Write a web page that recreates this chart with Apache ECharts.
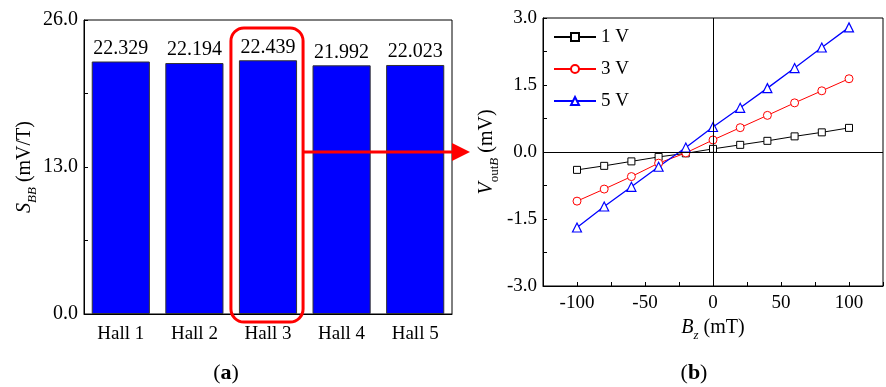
<!DOCTYPE html>
<html><head><meta charset="utf-8">
<script src="https://cdn.jsdelivr.net/npm/echarts@6/dist/echarts.min.js"></script>
<style>html,body{margin:0;padding:0;background:#fff}#c{width:886px;height:387px}</style>
</head><body><div id="c"></div>
<script>
// ---- data ----
const halls = ['Hall 1', 'Hall 2', 'Hall 3', 'Hall 4', 'Hall 5'];
const sensitivity = [22.329, 22.194, 22.439, 21.992, 22.023];
const bz = [-100, -80, -60, -40, -20, 0, 20, 40, 60, 80, 100];
const v1V = [-0.40, -0.31, -0.21, -0.11, -0.03, 0.07, 0.16, 0.25, 0.35, 0.44, 0.54];
const v3V = [-1.10, -0.83, -0.55, -0.25, -0.02, 0.27, 0.545, 0.82, 1.10, 1.37, 1.64];
const v5V = [-1.69, -1.22, -0.78, -0.33, 0.10, 0.56, 0.99, 1.43, 1.88, 2.34, 2.79];
const seriesNames = ['1 V', '3 V', '5 V'];
const leftTicks = [0, 13, 26];
const rightYTicks = [-3, -1.5, 0, 1.5, 3];
const rightXTicks = [-100, -50, 0, 50, 100];

const F = 'Liberation Serif';
const rich = {
  i: {fontFamily: F, fontStyle: 'italic', fontSize: 20, lineHeight: 28, verticalAlign: 'middle', color: '#000'},
  n: {fontFamily: F, fontSize: 20, lineHeight: 28, verticalAlign: 'middle', color: '#000'},
  si: {fontFamily: F, fontStyle: 'italic', fontSize: 13, lineHeight: 13, verticalAlign: 'bottom', color: '#000'},
  sn: {fontFamily: F, fontSize: 13, lineHeight: 13, verticalAlign: 'bottom', color: '#000'}
};
const near = (v, arr) => arr.some(t => Math.abs(t - v) < 1e-6);

const chart = echarts.init(document.getElementById('c'), null, {renderer: 'canvas'});
const pairs = arr => bz.map((x, k) => [x, arr[k]]);

const option = {
  animation: false,
  backgroundColor: '#fff',
  textStyle: {fontFamily: F},
  grid: [
    {left: 84, top: 20, width: 368, height: 294, show: true, borderColor: '#000', borderWidth: 1, containLabel: false},
    {left: 543, top: 18, width: 348, height: 268, show: true, borderColor: '#000', borderWidth: 1, containLabel: false}
  ],
  legend: {
    data: seriesNames,
    orient: 'vertical', left: 553, top: 27, padding: 0,
    itemWidth: 42, itemHeight: 10, itemGap: 12,
    textStyle: {fontFamily: F, fontSize: 19, lineHeight: 20, color: '#000'}
  },
  xAxis: [
    {
      type: 'category', gridIndex: 0, data: halls,
      axisLine: {lineStyle: {color: '#000', width: 1}},
      axisTick: {inside: true, alignWithLabel: true, length: 4, lineStyle: {color: '#000'}},
      axisLabel: {fontFamily: F, fontSize: 19, color: '#000', margin: 11},
      splitLine: {show: false}
    },
    {
      type: 'value', gridIndex: 1, min: -125, max: 125, interval: 25,
      name: '{i|B}{si|z}{n| (mT)}', nameLocation: 'middle', nameGap: 26,
      nameTextStyle: {rich: rich},
      axisLine: {onZero: false, lineStyle: {color: '#000', width: 1}},
      axisTick: {inside: true, length: 4, lineStyle: {color: '#000'}},
      axisLabel: {fontFamily: F, fontSize: 19, color: '#000', margin: 8,
        formatter: v => near(v, rightXTicks) ? String(v) : ''},
      splitLine: {show: false}
    }
  ],
  yAxis: [
    {
      type: 'value', gridIndex: 0, min: 0, max: 26, interval: 6.5,
      name: '{i|S}{si|BB}{n| (mV/T)}', nameLocation: 'middle', nameGap: 36,
      nameTextStyle: {rich: rich},
      axisLine: {show: true, lineStyle: {color: '#000', width: 1}},
      axisTick: {show: true, inside: true, length: 4, lineStyle: {color: '#000'}},
      axisLabel: {fontFamily: F, fontSize: 20, color: '#000', margin: 6,
        formatter: v => near(v, leftTicks) ? v.toFixed(1) : ''},
      splitLine: {show: false}
    },
    {
      type: 'value', gridIndex: 1, min: -3, max: 3, interval: 0.75,
      name: '{i|V}{sn|out}{si|B}{n| (mV)}', nameLocation: 'middle', nameGap: 42,
      nameTextStyle: {rich: rich},
      axisLine: {show: true, onZero: false, lineStyle: {color: '#000', width: 1}},
      axisTick: {show: true, inside: true, length: 4, lineStyle: {color: '#000'}},
      axisLabel: {fontFamily: F, fontSize: 19, color: '#000', margin: 6,
        formatter: v => near(v, rightYTicks) ? v.toFixed(1) : ''},
      splitLine: {show: false}
    }
  ],
  series: [
    {
      type: 'bar', xAxisIndex: 0, yAxisIndex: 0, data: sensitivity,
      barCategoryGap: '21%',
      itemStyle: {color: '#0000ff', borderColor: '#333', borderWidth: 1},
      label: {show: true, position: 'top', distance: 3, fontFamily: F, fontSize: 20, color: '#000',
        formatter: p => p.value.toFixed(3)}
    },
    {
      name: seriesNames[0], type: 'line', xAxisIndex: 1, yAxisIndex: 1, data: pairs(v1V),
      symbol: 'rect', symbolSize: 7, color: '#000',
      lineStyle: {color: '#000', width: 1},
      itemStyle: {color: '#fff', borderColor: '#000', borderWidth: 1},
      markLine: {silent: true, symbol: 'none', label: {show: false},
        lineStyle: {color: '#000', width: 1, type: 'solid'},
        data: [{yAxis: 0}, {xAxis: 0}]}
    },
    {
      name: seriesNames[1], type: 'line', xAxisIndex: 1, yAxisIndex: 1, data: pairs(v3V),
      symbol: 'circle', symbolSize: 8, color: '#ff0000',
      lineStyle: {color: '#ff0000', width: 1},
      itemStyle: {color: '#fff', borderColor: '#ff0000', borderWidth: 1}
    },
    {
      name: seriesNames[2], type: 'line', xAxisIndex: 1, yAxisIndex: 1, data: pairs(v5V),
      symbol: 'triangle', symbolSize: 9, color: '#0000ff',
      lineStyle: {color: '#0000ff', width: 1.3},
      itemStyle: {color: '#fff', borderColor: '#0000ff', borderWidth: 1.2}
    }
  ]
};
chart.setOption(option);

// annotations placed from axis positions
const cx = chart.convertToPixel({xAxisIndex: 0}, 'Hall 3');
const yTop = chart.convertToPixel({yAxisIndex: 0}, 26);
const yBot = chart.convertToPixel({yAxisIndex: 0}, 0);
const catW = 368 / halls.length;
const rw = catW * 0.98;
const rx = cx - rw / 2 - 1;
const ry = yTop + 8;
const rh = yBot - yTop;
const ay = chart.convertToPixel({yAxisIndex: 1}, 0);
const tipX = 470, baseX = 452;
const zeroX = chart.convertToPixel({xAxisIndex: 1}, 0);

const capRich = {p: {fontFamily: F, fontSize: 22, fill: '#000'}, b: {fontFamily: F, fontSize: 22, fontWeight: 'bold', fill: '#000'}};
chart.setOption({
  graphic: [
    {type: 'rect', shape: {x: rx, y: ry, width: rw, height: rh, r: 13},
      style: {fill: 'none', stroke: '#ff0000', lineWidth: 3}, z: 100},
    {type: 'line', shape: {x1: rx + rw, y1: ay, x2: baseX + 1, y2: ay},
      style: {stroke: '#ff0000', lineWidth: 3}, z: 100},
    {type: 'polygon', shape: {points: [[baseX, ay - 9], [tipX, ay], [baseX, ay + 9]]},
      style: {fill: '#ff0000'}, z: 100},
    {type: 'text', x: 226, y: 373, z: 100,
      style: {text: '{p|(}{b|a}{p|)}', textAlign: 'center', textVerticalAlign: 'middle', rich: capRich}},
    {type: 'text', x: zeroX - 19, y: 373, z: 100,
      style: {text: '{p|(}{b|b}{p|)}', textAlign: 'center', textVerticalAlign: 'middle', rich: capRich}}
  ]
});
</script>
</body></html>
